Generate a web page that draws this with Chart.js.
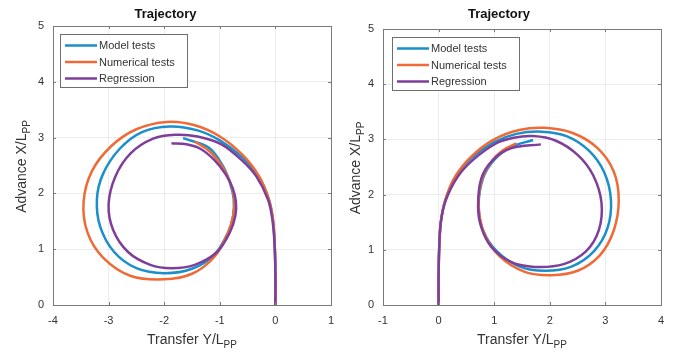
<!DOCTYPE html>
<html><head><meta charset="utf-8">
<script src="https://cdn.jsdelivr.net/npm/chart.js@4/dist/chart.umd.min.js"></script>
<style>
html,body{margin:0;padding:0;background:#fff;width:675px;height:352px;overflow:hidden}
.p{position:absolute;top:0}
</style></head><body>
<div class="p" style="left:0"><canvas id="c1" width="337" height="352"></canvas></div>
<div class="p" style="left:337px"><canvas id="c2" width="338" height="352"></canvas></div>
<script>
// ---------- data ----------
const chartTitle = 'Trajectory';
const seriesLabels = ['Model tests', 'Numerical tests', 'Regression'];
const xTitleMain = 'Transfer Y/L', yTitleMain = 'Advance X/L', titleSub = 'PP';
const xTicksLeft = [-4, -3, -2, -1, 0, 1];
const xTicksRight = [-1, 0, 1, 2, 3, 4];
const yTicks = [0, 1, 2, 3, 4, 5];

// Left panel
const leftModelX = [0, 0, -0.01, -0.04, -0.12, -0.3, -0.6, -1.0, -1.4, -1.9, -2.4, -2.8, -3.1, -3.21, -3.15, -2.9, -2.5, -2.0, -1.5, -1.1, -0.85, -0.76, -0.75, -0.82, -0.95, -1.2, -1.66];
const leftModelY = [0, 0.5, 1.0, 1.5, 1.9, 2.3, 2.65, 2.95, 3.13, 3.2, 3.1, 2.8, 2.35, 1.9, 1.4, 0.95, 0.66, 0.57, 0.65, 0.9, 1.3, 1.6, 1.9, 2.2, 2.5, 2.82, 2.99];
const leftNumX = [0, 0, -0.01, -0.04, -0.12, -0.3, -0.6, -1.0, -1.45, -1.95, -2.5, -2.95, -3.3, -3.45, -3.38, -3.1, -2.6, -2.0, -1.5, -1.1, -0.85, -0.76, -0.74, -0.82, -0.97, -1.18, -1.45];
const leftNumY = [0, 0.5, 1.0, 1.5, 1.9, 2.32, 2.7, 3.02, 3.22, 3.28, 3.15, 2.85, 2.4, 1.85, 1.3, 0.85, 0.52, 0.46, 0.56, 0.86, 1.3, 1.6, 1.9, 2.22, 2.5, 2.75, 2.93];
const leftRegX = [0, 0, -0.01, -0.05, -0.13, -0.34, -0.61, -0.97, -1.4, -1.8, -2.2, -2.6, -2.88, -3.0, -2.92, -2.65, -2.25, -1.87, -1.45, -1.05, -0.82, -0.72, -0.71, -0.77, -0.9, -1.1, -1.35, -1.6, -1.87];
const leftRegY = [0, 0.5, 1.0, 1.5, 1.88, 2.3, 2.6, 2.88, 3.02, 3.05, 2.98, 2.72, 2.3, 1.8, 1.35, 0.95, 0.72, 0.66, 0.72, 0.95, 1.3, 1.6, 1.85, 2.1, 2.35, 2.6, 2.8, 2.88, 2.9];

// Right panel
const rightModelX = [0, 0, 0.01, 0.04, 0.12, 0.3, 0.6, 1.0, 1.4, 1.85, 2.3, 2.7, 2.98, 3.1, 3.04, 2.8, 2.4, 1.91, 1.45, 1.05, 0.8, 0.72, 0.8, 1.0, 1.3, 1.7];
const rightModelY = [0, 0.5, 1.0, 1.5, 1.9, 2.32, 2.67, 2.95, 3.1, 3.14, 3.06, 2.8, 2.4, 1.9, 1.4, 0.98, 0.7, 0.62, 0.7, 0.97, 1.35, 1.8, 2.3, 2.63, 2.86, 2.99];
const rightNumX = [0, 0, 0.01, 0.04, 0.12, 0.3, 0.6, 1.0, 1.45, 1.9, 2.4, 2.85, 3.15, 3.24, 3.15, 2.9, 2.5, 2.03, 1.55, 1.1, 0.82, 0.72, 0.78, 0.95, 1.15, 1.4];
const rightNumY = [0, 0.5, 1.0, 1.5, 1.9, 2.33, 2.7, 3.0, 3.17, 3.21, 3.12, 2.85, 2.42, 1.9, 1.35, 0.9, 0.62, 0.54, 0.6, 0.88, 1.3, 1.8, 2.28, 2.6, 2.8, 2.93];
const rightRegX = [0, 0, 0.01, 0.04, 0.13, 0.34, 0.62, 1.04, 1.35, 1.7, 2.1, 2.5, 2.78, 2.93, 2.88, 2.65, 2.25, 1.73, 1.3, 0.95, 0.77, 0.71, 0.77, 0.98, 1.3, 1.84];
const rightRegY = [0, 0.5, 1.0, 1.5, 1.9, 2.32, 2.63, 2.93, 3.03, 3.06, 2.98, 2.72, 2.35, 1.85, 1.35, 0.97, 0.74, 0.69, 0.78, 1.05, 1.4, 1.78, 2.3, 2.63, 2.84, 2.91];

// ---------- styling ----------
const FONT = "'Liberation Sans', Arial, Helvetica, sans-serif";
const COLORS = ['#1a8fca', '#f06a35', '#7e3f9b'];
const AXIS_COLOR = '#7a7a7a';
const TEXT_COLOR = '#333333';

function pts(xs, ys) { return xs.map((x, i) => ({ x: x, y: ys[i] })); }

function drawSubText(ctx, main, sub, cx, base, size, subSize) {
  ctx.font = size + 'px ' + FONT;
  const w1 = ctx.measureText(main).width;
  ctx.font = subSize + 'px ' + FONT;
  const w2 = ctx.measureText(sub).width;
  const start = cx - (w1 + w2) / 2;
  ctx.textAlign = 'left';
  ctx.textBaseline = 'alphabetic';
  ctx.font = size + 'px ' + FONT;
  ctx.fillText(main, start, base);
  ctx.font = subSize + 'px ' + FONT;
  ctx.fillText(sub, start + w1, base + 4);
}

function framePlugin(opt) {
  return {
    id: 'frame',
    afterDraw(chart) {
      const ctx = chart.ctx, a = chart.chartArea;
      const xs = chart.scales.x, ys = chart.scales.y;
      ctx.save();
      // inward ticks
      ctx.strokeStyle = AXIS_COLOR;
      ctx.lineWidth = 1;
      ctx.beginPath();
      xs.ticks.forEach(t => {
        const px = Math.round(xs.getPixelForValue(t.value)) + 0.5;
        ctx.moveTo(px, a.bottom); ctx.lineTo(px, a.bottom - 3);
        ctx.moveTo(px, a.top); ctx.lineTo(px, a.top + 3);
      });
      ys.ticks.forEach(t => {
        const py = Math.round(ys.getPixelForValue(t.value)) + 0.5;
        ctx.moveTo(a.left, py); ctx.lineTo(a.left + 3, py);
        ctx.moveTo(a.right, py); ctx.lineTo(a.right - 3, py);
      });
      ctx.stroke();
      // box
      ctx.strokeRect(Math.round(a.left) + 0.5, Math.round(a.top) + 0.5, Math.round(a.right - a.left), Math.round(a.bottom - a.top));

      // legend
      const bx = a.left + opt.legX, by = a.top + opt.legY, bw = 127, bh = 53;
      ctx.fillStyle = '#fff';
      ctx.fillRect(bx, by, bw, bh);
      ctx.strokeStyle = '#6e6e6e';
      ctx.strokeRect(Math.round(bx) + 0.5, Math.round(by) + 0.5, bw, bh);
      chart.data.datasets.forEach((ds, i) => {
        const ry = by + 11.5 + i * 16.5;
        ctx.strokeStyle = ds.borderColor;
        ctx.lineWidth = 2.5;
        ctx.beginPath();
        ctx.moveTo(bx + 5, ry); ctx.lineTo(bx + 37, ry);
        ctx.stroke();
        ctx.fillStyle = TEXT_COLOR;
        ctx.font = '11px ' + FONT;
        ctx.textAlign = 'left';
        ctx.textBaseline = 'middle';
        ctx.fillText(ds.label, bx + 39, ry + 0.5);
      });

      // axis titles
      ctx.fillStyle = TEXT_COLOR;
      drawSubText(ctx, xTitleMain, titleSub, (a.left + a.right) / 2, 344, 14, 10);
      ctx.save();
      ctx.translate(opt.yTitleX, (a.top + a.bottom) / 2 + 1);
      ctx.rotate(-Math.PI / 2);
      drawSubText(ctx, yTitleMain, titleSub, 0, 0, 14, 10);
      ctx.restore();
      ctx.restore();
    }
  };
}

function makeChart(id, xTicks, series, opt) {
  const datasets = series.map((s, i) => ({
    label: seriesLabels[i],
    data: s,
    borderColor: COLORS[i],
    backgroundColor: COLORS[i],
    borderWidth: 2.5,
    pointRadius: 0,
    showLine: true,
    fill: false,
    tension: 0.35,
    order: 3 - i
  }));
  return new Chart(document.getElementById(id), {
    type: 'scatter',
    data: { datasets: datasets },
    plugins: [framePlugin(opt)],
    options: {
      responsive: false,
      animation: false,
      events: [],
      layout: { padding: { left: 0, right: opt.padRight, top: 0, bottom: 0 } },
      plugins: {
        legend: { display: false },
        tooltip: { enabled: false },
        title: {
          display: true, text: chartTitle, color: '#111',
          font: { family: FONT, size: 13, weight: 'bold' },
          padding: { top: opt.titleTop, bottom: opt.titleBottom }
        }
      },
      scales: {
        x: {
          type: 'linear',
          min: xTicks[0], max: xTicks[xTicks.length - 1],
          afterFit: s => { s.height = 47; },
          ticks: { stepSize: 1, color: TEXT_COLOR, padding: 2, font: { family: FONT, size: 11 } },
          grid: { color: 'rgba(0,0,0,0.07)', drawTicks: true, tickLength: 7, tickColor: 'rgba(0,0,0,0)' },
          border: { display: false }
        },
        y: {
          type: 'linear',
          min: yTicks[0], max: yTicks[yTicks.length - 1],
          afterFit: s => { s.width = opt.yWidth; },
          ticks: { stepSize: 1, color: TEXT_COLOR, padding: 9, font: { family: FONT, size: 11 } },
          grid: { color: 'rgba(0,0,0,0.07)', drawTicks: false },
          border: { display: false }
        }
      }
    }
  });
}

makeChart('c1', xTicksLeft,
  [pts(leftModelX, leftModelY), pts(leftNumX, leftNumY), pts(leftRegX, leftRegY)],
  { padRight: 6, yWidth: 53, titleTop: 7, titleBottom: 3.4, legX: 7, legY: 8, yTitleX: 26 });
makeChart('c2', xTicksRight,
  [pts(rightModelX, rightModelY), pts(rightNumX, rightNumY), pts(rightRegX, rightRegY)],
  { padRight: 14, yWidth: 46, titleTop: 7, titleBottom: 6.4, legX: 9, legY: 8, yTitleX: 23 });
</script>
</body></html>
